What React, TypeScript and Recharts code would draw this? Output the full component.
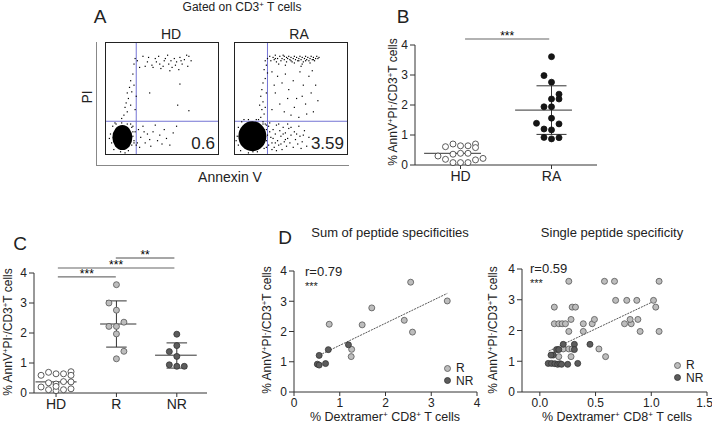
import React from 'react';
import { ScatterChart, Scatter, XAxis, YAxis, ReferenceLine } from 'recharts';

const FONT = '"Liberation Sans", Arial, sans-serif';

// ---- Panel A: flow plots (Annexin V vs PI, frame scaled 0-100) ----
const hdFlowDots: [number, number][] = [
  [26, 86], [28, 84], [25, 81], [33, 88], [35, 79], [38, 87], [41, 80], [44, 86], [47, 88], [48, 81],
  [51, 79], [52, 84], [55, 89], [56, 81], [59, 78], [61, 86], [63, 83], [65, 76], [66, 87], [68, 81],
  [70, 85], [72, 89], [73, 79], [74, 88], [76, 84], [57, 75], [49, 77], [42, 78], [37, 83], [30, 78],
  [62, 80], [45, 83], [53, 86], [67, 84], [58, 84],
  [24, 72], [22, 66], [21, 60], [19, 55], [20, 50], [18, 46], [17, 42], [19, 38], [16, 35], [22, 44],
  [23, 56], [25, 62], [14, 32], [26, 40], [27, 52],
  [39, 55], [64, 44], [74, 39], [66, 63],
  [29, 22], [31, 15], [33, 25], [35, 10], [37, 18], [40, 7], [42, 20], [44, 26], [46, 12], [48, 17],
  [50, 9], [52, 22], [54, 14], [57, 8], [60, 19], [63, 25], [28, 10], [30, 6], [34, 20], [39, 13],
  [25, 12], [26, 20], [27, 8], [24, 25],
  [5, 10], [4, 18], [6, 25], [9, 27], [14, 28], [19, 27], [23, 24], [24, 16], [23, 8], [20, 3],
  [13, 2], [7, 4], [3, 14], [24, 20], [22, 27], [8, 28], [17, 1], [25, 10],
];
const hdBlob = [{ x: 14.6, y: 14.8 }];

const raFlowDots: [number, number][] = [
  [29, 86], [31, 88], [32, 84], [34, 87], [35, 85], [36, 89], [37, 83], [38, 86], [40, 88], [41, 84],
  [42, 86], [43, 89], [44, 85], [46, 87], [46, 83], [47, 86], [48, 88], [49, 85], [50, 87], [51, 83],
  [52, 86], [53, 88], [54, 85], [55, 87], [56, 84], [57, 86], [58, 88], [59, 85], [60, 87], [61, 83],
  [62, 86], [63, 88], [64, 85], [65, 87], [66, 84], [67, 86], [68, 88], [69, 85], [70, 87], [71, 84],
  [72, 86], [73, 88], [74, 86], [75, 87], [39, 81], [45, 80], [53, 82], [60, 81], [67, 82], [44, 88],
  [50, 84], [57, 84], [63, 84], [70, 85], [36, 86],
  [27, 84], [28, 80], [26, 76], [29, 73], [27, 68], [25, 64], [24, 58], [23, 52], [25, 47], [22, 44],
  [24, 40], [26, 36], [23, 33], [21, 31], [28, 55], [27, 42],
  [33, 74], [38, 70], [42, 64], [45, 72], [48, 58], [52, 66], [55, 50], [58, 74], [61, 62], [63, 45],
  [66, 70], [68, 55], [70, 38], [72, 62], [74, 48], [36, 55], [40, 45], [44, 38], [47, 50], [50, 35],
  [53, 42], [57, 33], [60, 52], [64, 36], [33, 40], [35, 62], [69, 75], [59, 79],
  [30, 25], [31, 20], [32, 15], [33, 10], [34, 22], [35, 6], [36, 18], [37, 26], [38, 12], [39, 8],
  [40, 21], [41, 16], [42, 4], [43, 24], [44, 11], [45, 19], [46, 7], [47, 14], [48, 23], [49, 10],
  [50, 17], [52, 6], [53, 20], [54, 13], [56, 9], [57, 25], [58, 16], [60, 11], [62, 21], [64, 7],
  [66, 15], [30, 8], [31, 28], [33, 4], [34, 14], [36, 10], [37, 3], [39, 27], [41, 9], [43, 18],
  [45, 13], [47, 27], [50, 24], [55, 18], [59, 5], [61, 17],
  [26, 22], [27, 14], [28, 6], [25, 27], [28, 26],
  [3, 8], [2, 16], [3, 24], [6, 29], [12, 31], [19, 31], [25, 29], [28, 22], [28, 12], [26, 5],
  [20, 2], [12, 1], [5, 3], [29, 17], [27, 27], [8, 31], [16, 2], [1, 12],
];
const raBlob = [{ x: 15.5, y: 16 }];

const hdGate = { x: 27, y: 29.5 };
const raGate = { x: 29, y: 29.5 };
// unlabeled log-decade ticks on the flow frames
const flowTicks = [
  0, 7.5, 12, 15, 17.5, 19.5, 21, 22.5, 23.9, 25, 32.5, 37, 40, 42.5, 44.5, 46, 47.5, 48.9, 50,
  57.5, 62, 65, 67.5, 69.5, 71, 72.5, 73.9, 75, 82.5, 87, 90, 92.5, 94.5, 96, 97.5, 98.9,
];

// ---- Panel B: HD vs RA ----
const bHdCols = [-2, -1, 0, 1, 2, 2, -3, -1, 0, 1, -2, -1, 0, 1, 2, 3];
const bHdVals = [0.61, 0.7, 0.64, 0.64, 0.7, 0.58, 0.3, 0.36, 0.39, 0.39, 0.19, 0.08, 0.08, 0.08, 0.17, 0.22];
const bRaCols = [0, -1, 0, 1, 0, 1, -1, 0, 0, -2, 1, -1, 0, -1, 0, 1];
const bRaVals = [3.61, 2.98, 2.76, 2.36, 2.2, 2.2, 1.94, 1.94, 1.56, 1.39, 1.37, 1.2, 1.17, 0.92, 0.87, 0.91];
const bCats = ['HD', 'RA'];
const bMeans = [0.39, 1.83];
const bRaSd = [1.02, 2.64];

// ---- Panel C: HD vs R vs NR ----
const cHdCols = [-2, -1, 0, 1, 2, 2, -2, -1, 0, 1, 2, -1, 0, 1, 2, 0];
const cHdVals = [0.59, 0.69, 0.64, 0.64, 0.71, 0.59, 0.2, 0.34, 0.3, 0.38, 0.37, 0.11, 0.08, 0.11, 0.14, 0.22];
const cRCols = [0, -1, 0, -1, 0, 1, 0, 1, 0];
const cRVals = [3.61, 3.0, 2.76, 2.22, 2.22, 2.36, 1.97, 1.39, 1.14];
const cNrCols = [0, 0, -1, 0, -1, 0, 1];
const cNrVals = [1.96, 1.58, 1.38, 1.22, 0.94, 0.89, 0.89];
const cCats = ['HD', 'R', 'NR'];
const cMeans = [0.37, 2.3, 1.26];
const cRSd = [1.53, 3.07];
const cNrSd = [0.83, 1.67];

// ---- Panel D: correlation with dextramer ----
const dSumR: [number, number][] = [
  [2.55, 3.63], [3.35, 3.01], [1.7, 2.78], [0.77, 2.24], [1.49, 2.22], [2.41, 2.37], [2.59, 1.98], [1.26, 1.41], [1.25, 1.17],
];
const dSumNR: [number, number][] = [
  [1.19, 1.56], [0.75, 1.4], [0.55, 1.21], [0.51, 0.92], [0.55, 0.89], [0.69, 0.94],
];
const dSumTrend: [number, number][] = [[0.56, 1.22], [3.35, 3.26]];

const dSingleR: [number, number][] = [
  [0.26, 3.6], [0.58, 3.6], [0.67, 3.6], [1.07, 3.6],
  [0.68, 2.98], [0.78, 2.98], [0.87, 2.98], [1.02, 2.98],
  [0.13, 2.76], [0.29, 2.76], [0.32, 2.76], [1.04, 2.76],
  [0.13, 2.22], [0.17, 2.22], [0.2, 2.22], [0.23, 2.22], [0.39, 2.22], [0.47, 2.22], [0.76, 2.22], [0.82, 2.22],
  [0.28, 2.36], [0.49, 2.36], [0.81, 2.36], [0.88, 2.36],
  [0.26, 1.97], [0.39, 1.97], [0.9, 1.97], [1.07, 1.97],
  [0.53, 1.4], [0.21, 1.4], [0.26, 1.4], [0.29, 1.4],
  [0.59, 1.15], [0.17, 1.15], [0.28, 1.15],
];
const dSingleNR: [number, number][] = [
  [0.21, 1.55], [0.31, 1.55], [0.45, 1.55],
  [0.15, 1.38], [0.17, 1.38], [0.31, 1.38],
  [0.12, 1.2], [0.1, 1.2],
  [0.075, 0.93], [0.105, 0.93], [0.135, 0.92], [0.16, 0.9], [0.18, 0.92], [0.195, 0.9], [0.25, 0.9], [0.34, 0.93],
];
const dSingleTrend: [number, number][] = [[0.08, 1.33], [1.04, 2.98]];

const toXY = (pts: [number, number][]) => pts.map(([x, y]) => ({ x, y }));
const jitter = (cat: number, cols: number[], vals: number[], step: number) =>
  vals.map((y, i) => ({ x: cat + cols[i] * step, y }));

const flowDot = (p: any) => <rect x={p.cx - 0.6} y={p.cy - 0.6} width={1.2} height={1.2} fill="#000" />;
const blobA = (p: any) => <ellipse cx={p.cx} cy={p.cy} rx={10} ry={12.5} fill="#000" />;
const blobB = (p: any) => <ellipse cx={p.cx} cy={p.cy} rx={14} ry={15} fill="#000" />;
const dot = (fill: string, stroke: string) => (p: any) => (
  <circle cx={p.cx} cy={p.cy} r={3} fill={fill} stroke={stroke} strokeWidth={0.8} />
);
const noLabel = () => <g />;

const openDot = dot('#fff', '#333');
const blackDot = dot('#151515', '#111');
const rDot = dot('#bdbdbd', '#555');
const nrDot = dot('#5c5c5c', '#333');

const AX = '#333';
const tickStyle = { fontSize: 12, fill: '#222', fontFamily: FONT };
const catTick = { fontSize: 14, fill: '#222', fontFamily: FONT };

const abs = (left: number, top: number, extra: React.CSSProperties = {}): React.CSSProperties => ({
  position: 'absolute', left, top, fontFamily: FONT, color: '#222', whiteSpace: 'nowrap', lineHeight: 1, ...extra,
});
const center = (left: number, top: number, fontSize: number, extra: React.CSSProperties = {}) =>
  abs(left, top, { fontSize, transform: 'translate(-50%,-50%)', ...extra });
const vert = (left: number, top: number, fontSize: number) =>
  abs(left, top, { fontSize, transform: 'translate(-50%,-50%) rotate(-90deg)' });

const sup: React.CSSProperties = { fontSize: '0.65em', verticalAlign: '0.5em' };
const AnnLabel = () => (
  <span>% AnnV<span style={sup}>+</span>PI<span style={sup}>-</span>/CD3<span style={sup}>+</span>T cells</span>
);
const DexLabel = () => (
  <span>% Dextramer<span style={sup}>+</span> CD8<span style={sup}>+</span> T cells</span>
);

const FlowPlot = ({ left, dots, blob, blobShape, gate, pct }: any) => (
  <div style={{ position: 'absolute', left, top: 42, width: 114, height: 113, border: '1px solid #222', boxSizing: 'border-box' }}>
    <ScatterChart width={112} height={111} margin={{ top: 0, right: 0, bottom: 0, left: 0 }}>
      <XAxis type="number" dataKey="x" domain={[0, 100]} ticks={flowTicks} tick={noLabel} axisLine={false}
        mirror tickSize={2} stroke="#555" height={0} />
      <YAxis type="number" dataKey="y" domain={[0, 100]} ticks={flowTicks} tick={noLabel} axisLine={false}
        mirror tickSize={2} stroke="#555" width={0} />
      <ReferenceLine x={gate.x} stroke="#7474d4" strokeWidth={1} />
      <ReferenceLine y={gate.y} stroke="#7474d4" strokeWidth={1} />
      <Scatter data={toXY(dots)} shape={flowDot} isAnimationActive={false} />
      <Scatter data={blob} shape={blobShape} isAnimationActive={false} />
    </ScatterChart>
    <div style={abs(0, 0, { left: 'auto', right: 3, top: 'auto', bottom: 2, fontSize: 17 })}>{pct}</div>
  </div>
);

const meanLine = (cat: number, mean: number, lo: number, hi: number) => (
  <ReferenceLine key={`m${cat}`} segment={[{ x: cat - lo, y: mean }, { x: cat + hi, y: mean }]} stroke="#333" strokeWidth={1} />
);
const sdLines = (cat: number, sd: number[], half: number) => [
  <ReferenceLine key={`s0${cat}`} segment={[{ x: cat, y: sd[0] }, { x: cat, y: sd[1] }]} stroke="#333" />,
  <ReferenceLine key={`s1${cat}`} segment={[{ x: cat - half, y: sd[0] }, { x: cat + half, y: sd[0] }]} stroke="#333" />,
  <ReferenceLine key={`s2${cat}`} segment={[{ x: cat - half, y: sd[1] }, { x: cat + half, y: sd[1] }]} stroke="#333" />,
];
const sigBar = (x0: number, x1: number, y: number, text: string, color: string, width: number) => (
  <ReferenceLine
    key={`sig${x0}${y}`}
    segment={[{ x: x0, y }, { x: x1, y }]}
    stroke={color}
    strokeWidth={width}
    label={{ value: text, position: 'top', fontSize: 12, fill: '#000', stroke: 'none', dy: 6 }}
  />
);

const Legend = ({ left, top }: { left: number; top: number }) => (
  <div style={abs(left, top, { fontSize: 12 })}>
    <div style={{ display: 'flex', alignItems: 'center', height: 12.5 }}>
      <svg width={9} height={9} style={{ marginRight: 4 }}><circle cx={4.5} cy={4.5} r={3} fill="#bdbdbd" stroke="#555" strokeWidth={0.8} /></svg>R
    </div>
    <div style={{ display: 'flex', alignItems: 'center', height: 12.5 }}>
      <svg width={9} height={9} style={{ marginRight: 4 }}><circle cx={4.5} cy={4.5} r={3} fill="#5c5c5c" stroke="#333" strokeWidth={0.8} /></svg>NR
    </div>
  </div>
);

export default function App() {
  const bStep = 0.165;
  const cStep = 0.124;
  return (
    <div style={{ position: 'relative', width: 712, height: 423, background: '#fff', overflow: 'hidden', fontFamily: FONT }}>
      <style>{'body{margin:0}'}</style>

      {/* Panel A */}
      <div style={center(242, 7, 12)}>Gated on CD3<span style={sup}>+</span> T cells</div>
      <div style={center(100, 16, 19)}>A</div>
      <div style={center(171, 34, 14)}>HD</div>
      <div style={center(299, 34, 14)}>RA</div>
      <div style={vert(87, 97, 14)}>PI</div>
      <div style={center(230, 177, 14)}>Annexin V</div>
      <div style={{ position: 'absolute', left: 96, top: 42, width: 1, height: 123, background: '#888' }} />
      <div style={{ position: 'absolute', left: 96, top: 165, width: 253, height: 1, background: '#888' }} />
      <FlowPlot left={105} dots={hdFlowDots} blob={hdBlob} blobShape={blobA} gate={hdGate} pct="0.6" />
      <FlowPlot left={234} dots={raFlowDots} blob={raBlob} blobShape={blobB} gate={raGate} pct="3.59" />

      {/* Panel B */}
      <div style={center(403, 16, 19)}>B</div>
      <div style={vert(393, 102, 12)}><AnnLabel /></div>
      <div style={{ position: 'absolute', left: 360, top: 0 }}>
        <ScatterChart width={352} height={200} margin={{ top: 33, right: 115, bottom: 0, left: 0 }}>
          <XAxis type="number" dataKey="x" domain={[0, 4]} ticks={[1, 3]} tickFormatter={(v) => bCats[(v - 1) / 2]}
            stroke={AX} tick={catTick} tickSize={4} height={35} />
          <YAxis type="number" dataKey="y" domain={[0, 4.4]} ticks={[0, 1, 2, 3, 4]} axisLine={false}
            stroke={AX} tick={tickStyle} tickSize={5} width={55} />
          <ReferenceLine segment={[{ x: 0, y: 0 }, { x: 0, y: 4 }]} stroke={AX} />
          {meanLine(1, bMeans[0], 0.8, 0.45)}
          {meanLine(3, bMeans[1], 0.8, 0.45)}
          {sdLines(3, bRaSd, 0.33)}
          {sigBar(1.1, 2.95, 4.2, '***', '#999', 1.5)}
          <Scatter data={jitter(1, bHdCols, bHdVals, bStep)} shape={openDot} isAnimationActive={false} />
          <Scatter data={jitter(3, bRaCols, bRaVals, bStep)} shape={blackDot} isAnimationActive={false} />
        </ScatterChart>
      </div>

      {/* Panel C */}
      <div style={center(20, 243, 19)}>C</div>
      <div style={vert(8, 332, 12)}><AnnLabel /></div>
      <div style={{ position: 'absolute', left: 0, top: 200 }}>
        <ScatterChart width={260} height={223} margin={{ top: 52, right: 53, bottom: 0, left: 0 }}>
          <XAxis type="number" dataKey="x" domain={[0.635, 3.5]} ticks={[1, 2, 3]} tickFormatter={(v) => cCats[v - 1]}
            stroke={AX} tick={catTick} tickSize={4} height={30} />
          <YAxis type="number" dataKey="y" domain={[0, 4.7]} ticks={[0, 1, 2, 3, 4]} axisLine={false}
            stroke={AX} tick={tickStyle} tickSize={5} width={34} />
          <ReferenceLine segment={[{ x: 0.635, y: 0 }, { x: 0.635, y: 4 }]} stroke={AX} />
          {meanLine(1, cMeans[0], 0.34, 0.34)}
          {meanLine(2, cMeans[1], 0.27, 0.33)}
          {meanLine(3, cMeans[2], 0.36, 0.33)}
          {sdLines(2, cRSd, 0.17)}
          {sdLines(3, cNrSd, 0.17)}
          {sigBar(1.03, 1.99, 3.87, '***', '#222', 0.8)}
          {sigBar(1.03, 2.96, 4.17, '***', '#999', 1.5)}
          {sigBar(1.99, 2.96, 4.5, '**', '#222', 0.8)}
          <Scatter data={jitter(1, cHdCols, cHdVals, cStep)} shape={openDot} isAnimationActive={false} />
          <Scatter data={jitter(2, cRCols, cRVals, cStep)} shape={rDot} isAnimationActive={false} />
          <Scatter data={jitter(3, cNrCols, cNrVals, cStep)} shape={nrDot} isAnimationActive={false} />
        </ScatterChart>
      </div>

      {/* Panel D left */}
      <div style={center(285, 237, 19)}>D</div>
      <div style={center(390, 232, 13)}>Sum of peptide specificities</div>
      <div style={vert(267, 330, 12)}><AnnLabel /></div>
      <div style={center(385, 417, 12.5)}><DexLabel /></div>
      <div style={abs(305, 265, { fontSize: 13 })}>r=0.79</div>
      <div style={abs(305, 281, { fontSize: 11 })}>***</div>
      <Legend left={443} top={362} />
      <div style={{ position: 'absolute', left: 260, top: 200 }}>
        <ScatterChart width={230} height={223} margin={{ top: 71, right: 13, bottom: 0, left: 0 }}>
          <XAxis type="number" dataKey="x" domain={[0, 4]} ticks={[0, 1, 2, 3, 4]} stroke={AX} tick={tickStyle} tickSize={4} height={31} />
          <YAxis type="number" dataKey="y" domain={[0, 4]} ticks={[0, 1, 2, 3, 4]} stroke={AX} tick={tickStyle} tickSize={5} width={34} />
          <ReferenceLine segment={toXY(dSumTrend)} stroke="#555" strokeDasharray="2 1" />
          <Scatter data={toXY(dSumR)} shape={rDot} isAnimationActive={false} />
          <Scatter data={toXY(dSumNR)} shape={nrDot} isAnimationActive={false} />
        </ScatterChart>
      </div>

      {/* Panel D right */}
      <div style={center(612, 232, 13)}>Single peptide specificity</div>
      <div style={vert(493, 330, 12)}><AnnLabel /></div>
      <div style={center(617, 417, 12.5)}><DexLabel /></div>
      <div style={abs(530, 262, { fontSize: 13 })}>r=0.59</div>
      <div style={abs(530, 278, { fontSize: 11 })}>***</div>
      <Legend left={673} top={359} />
      <div style={{ position: 'absolute', left: 480, top: 200 }}>
        <ScatterChart width={232} height={223} margin={{ top: 69, right: 5, bottom: 0, left: 0 }}>
          <XAxis type="number" dataKey="x" domain={[-0.16, 1.5]} ticks={[0, 0.5, 1, 1.5]} tickFormatter={(v) => v.toFixed(1)}
            stroke={AX} tick={tickStyle} tickSize={4} height={31} />
          <YAxis type="number" dataKey="y" domain={[0, 4]} ticks={[0, 1, 2, 3, 4]} stroke={AX} tick={tickStyle} tickSize={5} width={42} />
          <ReferenceLine segment={toXY(dSingleTrend)} stroke="#555" strokeDasharray="2 1" />
          <Scatter data={toXY(dSingleR)} shape={rDot} isAnimationActive={false} />
          <Scatter data={toXY(dSingleNR)} shape={nrDot} isAnimationActive={false} />
        </ScatterChart>
      </div>
    </div>
  );
}
